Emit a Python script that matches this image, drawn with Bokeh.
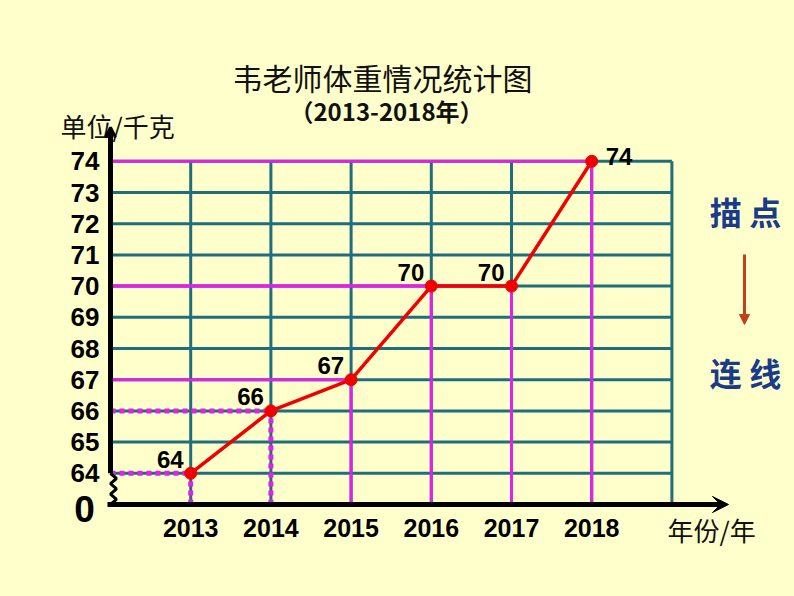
from bokeh.plotting import figure
from bokeh.models import (ColumnDataSource, LinearAxis, FixedTicker, Arrow,
                          VeeHead, OpenHead, NormalHead, Range1d)
from bokeh.core.properties import value
from bokeh.embed import file_html
from bokeh.resources import INLINE

# ---------------- data ----------------
years = [2013, 2014, 2015, 2016, 2017, 2018]
weights = [64, 66, 67, 70, 70, 74]
weight_ticks = [64, 65, 66, 67, 68, 69, 70, 71, 72, 73, 74]
year_labels = ["2013", "2014", "2015", "2016", "2017", "2018"]
weight_labels = ["64", "65", "66", "67", "68", "69", "70", "71", "72", "73", "74"]

title_text = "韦老师体重情况统计图"
subtitle_text = "（2013-2018年）"
y_name = "单位/千克"
x_name = "年份/年"
side_top = "描 点"
side_bottom = "连 线"
zero_label = "0"

# ---------------- style ----------------
BG = "#FFFFCC"
TEAL = "#1E6E7E"
MAGENTA = "#E31FE8"
RED = "#F00000"
BLUE = "#1A3A8A"
BROWN = "#C0401A"
NUM_FONT_NAME = "Liberation Sans"
NUM_FONT = value(NUM_FONT_NAME)
CJK_FONT = value("Noto Sans CJK SC")

W, H = 794, 596
X0 = 2012          # position of the vertical axis
Y0 = 63            # position of the horizontal axis (broken-axis baseline)
PX_X = 80.2        # pixels per year
PX_Y = 31.2        # pixels per kg
AX_PX, AY_PX = 110, 504   # pixel position of the axes' corner
x_start = X0 - AX_PX / PX_X
x_end = x_start + W / PX_X
y_end = Y0 + AY_PX / PX_Y
y_start = y_end - H / PX_Y


def fx(X):
    return x_start + X / PX_X


def fy(Y):
    return y_end - Y / PX_Y


p = figure(width=W, height=H, output_backend="svg", toolbar_location=None,
           x_range=Range1d(x_start, x_end), y_range=Range1d(y_start, y_end),
           x_axis_location=None, y_axis_location=None,
           min_border=0, min_border_left=0, min_border_right=0,
           min_border_top=0, min_border_bottom=0)
p.background_fill_color = BG
p.border_fill_color = BG
p.outline_line_color = None
p.grid.grid_line_color = None

# ---------------- axes (tick labels) ----------------
yaxis = LinearAxis(ticker=FixedTicker(ticks=weight_ticks, minor_ticks=[]),
                   fixed_location=X0)
yaxis.major_label_overrides = {t: l for t, l in zip(weight_ticks, weight_labels)}
yaxis.axis_line_color = None
yaxis.major_tick_line_color = None
yaxis.minor_tick_line_color = None
yaxis.major_tick_out = 0
yaxis.major_label_standoff = 11
yaxis.major_label_text_font = NUM_FONT_NAME
yaxis.major_label_text_font_style = "bold"
yaxis.major_label_text_font_size = "26px"
yaxis.major_label_text_color = "black"
p.add_layout(yaxis, "left")

xaxis = LinearAxis(ticker=FixedTicker(ticks=years, minor_ticks=[]),
                   fixed_location=Y0)
xaxis.major_label_overrides = {t: l for t, l in zip(years, year_labels)}
xaxis.axis_line_color = None
xaxis.major_tick_line_color = None
xaxis.minor_tick_line_color = None
xaxis.major_tick_out = 0
xaxis.major_label_standoff = 14
xaxis.major_label_text_font = NUM_FONT_NAME
xaxis.major_label_text_font_style = "bold"
xaxis.major_label_text_font_size = "25px"
xaxis.major_label_text_color = "black"
p.add_layout(xaxis, "below")

# ---------------- grid ----------------
grid_right = years[-1] + 1
top = max(weight_ticks)
p.segment(x0=[X0] * len(weight_ticks), y0=weight_ticks,
          x1=[grid_right] * len(weight_ticks), y1=weight_ticks,
          line_color=TEAL, line_width=3)
vx = years + [grid_right]
p.segment(x0=vx, y0=[Y0] * len(vx), x1=vx, y1=[top] * len(vx),
          line_color=TEAL, line_width=3)

# ---------------- guide lines to each point ----------------
n_dotted = 2
solid_x, solid_y = years[n_dotted:], weights[n_dotted:]
dot_x, dot_y = years[:n_dotted], weights[:n_dotted]
p.segment(x0=[X0] * len(solid_x), y0=solid_y, x1=solid_x, y1=solid_y,
          line_color=MAGENTA, line_width=3)
p.segment(x0=solid_x, y0=[Y0] * len(solid_x), x1=solid_x, y1=solid_y,
          line_color=MAGENTA, line_width=3)
p.segment(x0=[X0] * len(dot_x), y0=dot_y, x1=dot_x, y1=dot_y,
          line_color=MAGENTA, line_width=5, line_dash="5 4")
p.segment(x0=dot_x, y0=[Y0] * len(dot_x), x1=dot_x, y1=dot_y,
          line_color=MAGENTA, line_width=5, line_dash="5 4")

# ---------------- axis lines ----------------
p.add_layout(Arrow(x_start=fx(107), y_start=Y0, x_end=fx(728), y_end=Y0,
                   line_color="black", line_width=5,
                   end=VeeHead(size=16, fill_color="black", line_color="black")))
p.add_layout(Arrow(x_start=X0, y_start=weight_ticks[0], x_end=X0, y_end=fy(127),
                   line_color="black", line_width=5,
                   end=OpenHead(size=10, line_color="black", line_width=3)))
# axis break zigzag
zz_dx = [0, 6, 0, 6, 0, 6, 0]
zz_x = [X0 + d / PX_X for d in zz_dx]
zz_y = [weight_ticks[0] - i * (weight_ticks[0] - Y0) / (len(zz_dx) - 1) for i in range(len(zz_dx))]
p.line(zz_x, zz_y, line_color="black", line_width=3)

# ---------------- data line ----------------
src = ColumnDataSource(dict(x=years, y=weights, t=[str(w) for w in weights]))
p.line("x", "y", source=src, line_color=RED, line_width=3.5)
p.scatter("x", "y", source=src, size=12, fill_color=RED, line_color=RED)

left_src = ColumnDataSource(dict(x=years[:-1], y=weights[:-1],
                                 t=[str(w) for w in weights[:-1]]))
p.text("x", "y", text="t", source=left_src, text_align="right",
       text_baseline="middle", x_offset=-7, y_offset=-14,
       text_font=NUM_FONT, text_font_style="bold", text_font_size="24px",
       text_color="black")
right_src = ColumnDataSource(dict(x=years[-1:], y=weights[-1:],
                                  t=[str(w) for w in weights[-1:]]))
p.text("x", "y", text="t", source=right_src, text_align="left",
       text_baseline="middle", x_offset=14, y_offset=-5,
       text_font=NUM_FONT, text_font_style="bold", text_font_size="24px",
       text_color="black")

# ---------------- texts ----------------
p.text(x=[fx(382)], y=[fy(76)], text=[title_text], text_align="center",
       text_baseline="middle", text_font=CJK_FONT, text_font_size="30px",
       text_color="#111111")
p.text(x=[fx(386)], y=[fy(110)], text=[subtitle_text], text_align="center",
       text_baseline="middle", text_font=CJK_FONT, text_font_style="bold",
       text_font_size="24px", text_color="#111111")
p.text(x=[fx(60)], y=[fy(125)], text=[y_name], text_align="left",
       text_baseline="middle", text_font=CJK_FONT, text_font_size="26px",
       text_color="#111111")
p.text(x=[fx(667)], y=[fy(529)], text=[x_name], text_align="left",
       text_baseline="middle", text_font=CJK_FONT, text_font_size="26px",
       text_color="#111111")
p.text(x=[fx(84)], y=[fy(508)], text=[zero_label], text_align="center",
       text_baseline="middle", text_font=NUM_FONT, text_font_style="bold",
       text_font_size="37px", text_color="black")
p.text(x=[fx(745)], y=[fy(210)], text=[side_top], text_align="center",
       text_baseline="middle", text_font=CJK_FONT, text_font_style="bold",
       text_font_size="32px", text_color=BLUE)
p.text(x=[fx(745)], y=[fy(371)], text=[side_bottom], text_align="center",
       text_baseline="middle", text_font=CJK_FONT, text_font_style="bold",
       text_font_size="32px", text_color=BLUE)
p.add_layout(Arrow(x_start=fx(744), y_start=fy(254), x_end=fx(744), y_end=fy(324),
                   line_color=BROWN, line_width=3,
                   end=NormalHead(size=10, fill_color=BROWN, line_color=BROWN)))

html = file_html(p, INLINE)
css = "<style>html, body { margin: 0; padding: 0; background: %s; overflow: hidden; }</style>" % BG
html = html.replace("</head>", css + "\n</head>", 1)
open("out.html", "w").write(html)
